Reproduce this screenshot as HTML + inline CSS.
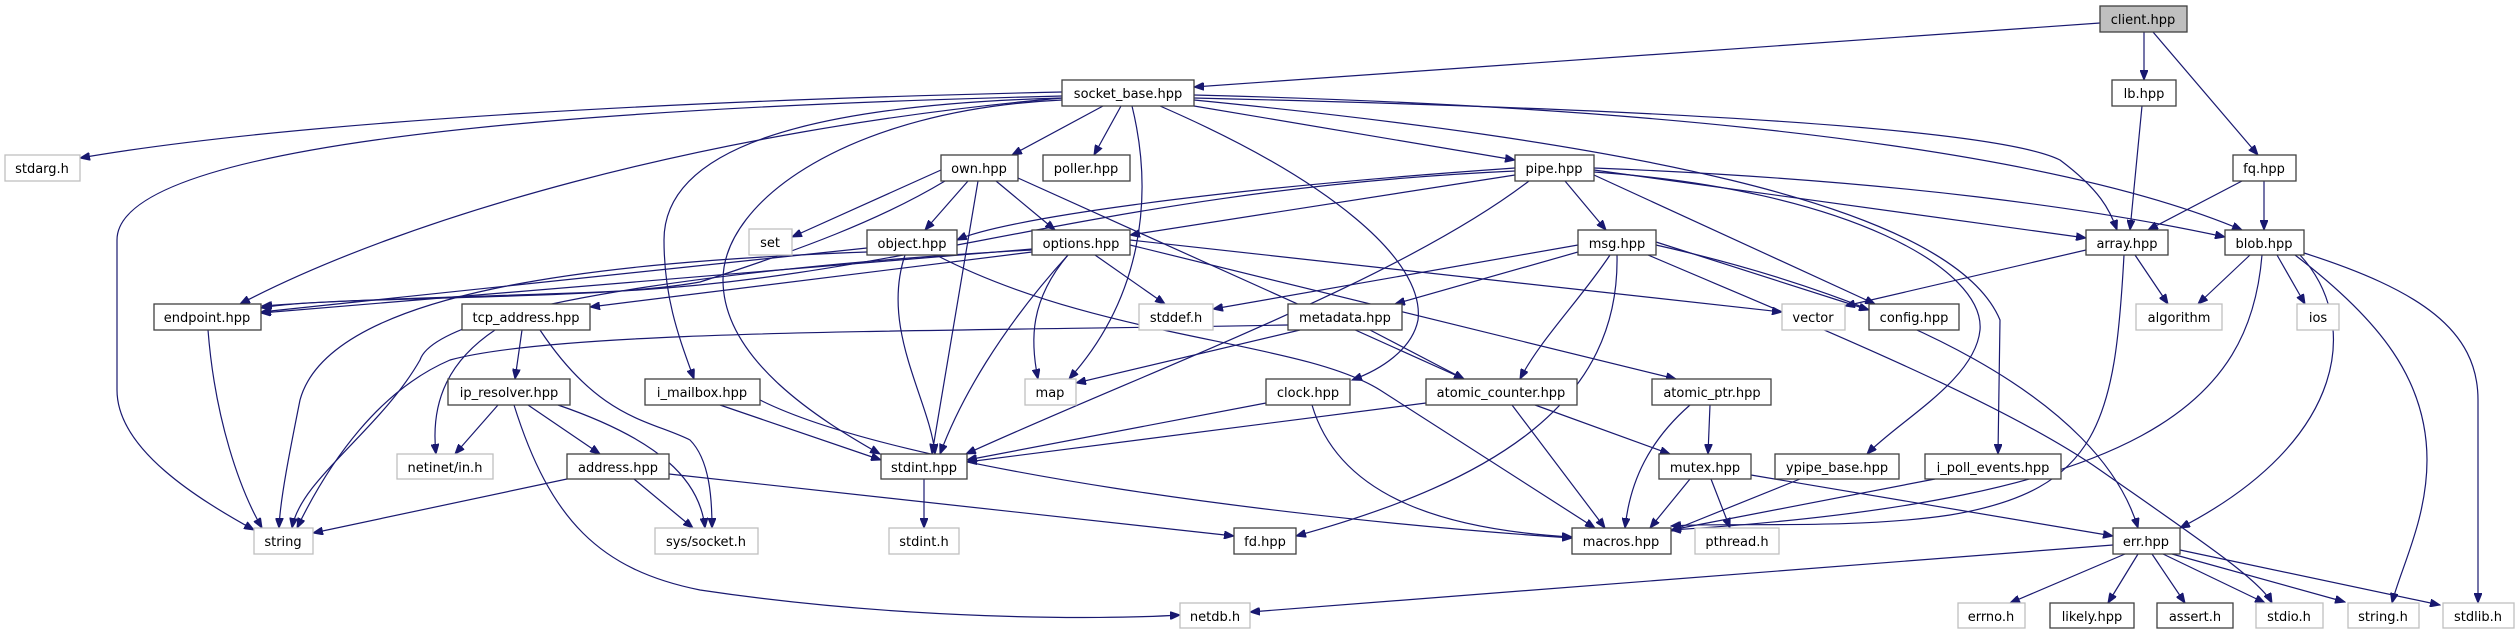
<!DOCTYPE html>
<html><head><meta charset="utf-8"><style>
html,body{margin:0;padding:0;background:#fff;}
svg{display:block;}
text{font-family:"DejaVu Sans","Liberation Sans",sans-serif;font-size:13px;fill:#000;}
.n rect{fill:#fff;stroke:#404040;stroke-width:1.3;}
.g rect{fill:#fff;stroke:#bfbfbf;stroke-width:1.3;}
.e path{fill:none;stroke:#191970;stroke-width:1.2;marker-end:url(#a);}
</style></head><body>
<svg width="2517" height="635" viewBox="0 0 2517 635" xmlns="http://www.w3.org/2000/svg">
<defs><marker id="a" markerUnits="userSpaceOnUse" markerWidth="11" markerHeight="8" refX="10" refY="4" orient="auto"><path d="M0,0 L10,4 L0,8 z" fill="#191970" stroke="#191970"/></marker></defs>
<g class="e">
<path d="M2100,23 L1194,87"/>
<path d="M2144,32 L2144,80"/>
<path d="M2153,32 L2258,155"/>
<path d="M2142,106 L2130,230"/>
<path d="M2242,181 L2148,230"/>
<path d="M2264,181 L2264,230"/>
<path d="M1062,92 C700,100 300,120 80,158"/>
<path d="M1062,96 C500,110 117,150 117,240 L117,390 C117,450 200,500 254,530"/>
<path d="M1062,98 C700,130 400,220 240,304"/>
<path d="M1062,98 C800,105 664,150 664,240 C664,300 680,340 694,379"/>
<path d="M1062,100 C850,110 723,200 723,280 C723,360 820,420 880,454"/>
<path d="M1103,106 L1012,155"/>
<path d="M1121,106 L1094,155"/>
<path d="M1132,106 C1155,200 1140,300 1069,379"/>
<path d="M1160,106 C1330,180 1425,260 1418,320 C1412,350 1380,370 1352,380"/>
<path d="M1194,106 L1515,160"/>
<path d="M1194,98 C1700,110 2000,130 2060,160 C2100,190 2110,210 2117,230"/>
<path d="M1194,95 C1800,110 2100,170 2242,230"/>
<path d="M1194,100 C1600,140 1950,200 2000,320 L1998,454"/>
<path d="M941,170 L792,237"/>
<path d="M968,181 L925,230"/>
<path d="M996,181 L1055,230"/>
<path d="M978,181 L932,454"/>
<path d="M1018,178 L1464,379"/>
<path d="M945,181 C880,220 800,250 700,282 C600,300 400,295 262,306"/>
<path d="M867,248 L261,312"/>
<path d="M867,252 C600,262 330,290 300,400 C290,450 280,500 279,528"/>
<path d="M905,255 C880,330 930,400 935,454"/>
<path d="M936,255 C1100,340 1300,340 1380,390 L1595,528"/>
<path d="M1032,249 L261,313"/>
<path d="M1032,252 L590,307"/>
<path d="M1032,250 C800,262 440,300 420,360 C380,430 300,480 292,528"/>
<path d="M1095,255 L1165,304"/>
<path d="M1068,255 C1030,300 1030,340 1038,379"/>
<path d="M1068,255 C1000,330 960,400 940,454"/>
<path d="M1130,240 L1782,312"/>
<path d="M1130,245 L1676,379"/>
<path d="M1515,168 C1200,190 1000,220 957,240"/>
<path d="M1515,175 L1130,235"/>
<path d="M1515,171 C1100,190 900,280 600,292 C450,298 300,300 261,308"/>
<path d="M1565,181 L1606,230"/>
<path d="M1529,181 C1400,280 1150,370 966,454"/>
<path d="M1594,170 L2086,238"/>
<path d="M1594,168 C1900,180 2100,210 2225,237"/>
<path d="M1594,175 L1875,304"/>
<path d="M1594,172 C1850,190 1985,270 1980,330 C1975,380 1900,420 1867,454"/>
<path d="M1656,245 C1900,300 2100,400 2138,528"/>
<path d="M1648,255 C1800,320 2000,400 2100,470 C2200,540 2260,580 2272,603"/>
<path d="M1578,245 L1213,309"/>
<path d="M1585,250 L1395,304"/>
<path d="M1610,255 C1580,300 1540,340 1520,379"/>
<path d="M1617,255 C1620,400 1500,480 1296,536"/>
<path d="M1656,242 L1869,310"/>
<path d="M1300,330 L1076,383"/>
<path d="M1370,330 L1464,379"/>
<path d="M1288,325 C900,332 560,330 450,360 C380,390 330,460 297,528"/>
<path d="M2086,250 L1845,306"/>
<path d="M2135,255 L2168,304"/>
<path d="M2124,255 C2115,420 2100,490 1950,515 C1850,530 1720,522 1671,526"/>
<path d="M2250,255 L2198,304"/>
<path d="M2277,255 L2305,304"/>
<path d="M2262,255 C2250,400 2150,500 1671,530"/>
<path d="M2300,255 C2360,320 2350,440 2180,528"/>
<path d="M2295,255 C2380,320 2427,380 2427,460 C2427,520 2400,570 2392,603"/>
<path d="M2304,253 C2420,290 2478,330 2478,400 L2478,603"/>
<path d="M495,330 C450,360 430,400 436,454"/>
<path d="M522,330 L515,379"/>
<path d="M540,330 C600,420 650,420 690,440 C710,460 712,500 712,528"/>
<path d="M498,405 L455,454"/>
<path d="M528,405 L600,454"/>
<path d="M558,405 C660,440 700,480 705,528"/>
<path d="M514,405 C550,520 600,570 700,590 C900,620 1100,620 1180,615"/>
<path d="M567,479 L313,533"/>
<path d="M634,479 L693,528"/>
<path d="M669,474 L1234,536"/>
<path d="M208,330 C215,420 240,490 262,528"/>
<path d="M720,405 L881,460"/>
<path d="M760,400 C900,470 1300,520 1572,538"/>
<path d="M1266,403 L967,460"/>
<path d="M1312,405 C1340,500 1450,530 1572,537"/>
<path d="M1426,403 L967,462"/>
<path d="M1512,405 L1605,528"/>
<path d="M1535,405 L1670,454"/>
<path d="M1710,405 L1708,454"/>
<path d="M1690,405 C1650,440 1630,480 1625,528"/>
<path d="M1690,479 L1650,528"/>
<path d="M1711,479 L1730,528"/>
<path d="M1751,475 L2113,536"/>
<path d="M1800,479 L1671,531"/>
<path d="M1935,479 L1671,530"/>
<path d="M924,479 L924,528"/>
<path d="M2125,554 L2010,603"/>
<path d="M2138,554 L2108,603"/>
<path d="M2152,554 L2185,603"/>
<path d="M2163,554 L2265,603"/>
<path d="M2172,554 L2345,602"/>
<path d="M2180,550 L2440,605"/>
<path d="M2113,545 L1250,612"/>
</g>
<g class="n"><rect x="2100" y="6" width="87" height="26" style="fill:#bfbfbf"/><text x="2143" y="24" text-anchor="middle">client.hpp</text></g>
<g class="n"><rect x="1062" y="80" width="132" height="26"/><text x="1128" y="98" text-anchor="middle">socket_base.hpp</text></g>
<g class="n"><rect x="2112" y="80" width="64" height="26"/><text x="2144" y="98" text-anchor="middle">lb.hpp</text></g>
<g class="g"><rect x="5" y="155" width="75" height="26"/><text x="42" y="173" text-anchor="middle">stdarg.h</text></g>
<g class="n"><rect x="941" y="155" width="77" height="26"/><text x="979" y="173" text-anchor="middle">own.hpp</text></g>
<g class="n"><rect x="1043" y="155" width="87" height="26"/><text x="1086" y="173" text-anchor="middle">poller.hpp</text></g>
<g class="n"><rect x="1515" y="155" width="79" height="26"/><text x="1554" y="173" text-anchor="middle">pipe.hpp</text></g>
<g class="n"><rect x="2233" y="155" width="63" height="26"/><text x="2264" y="173" text-anchor="middle">fq.hpp</text></g>
<g class="g"><rect x="749" y="229" width="43" height="26"/><text x="770" y="247" text-anchor="middle">set</text></g>
<g class="n"><rect x="867" y="230" width="90" height="25"/><text x="912" y="248" text-anchor="middle">object.hpp</text></g>
<g class="n"><rect x="1032" y="230" width="98" height="25"/><text x="1081" y="248" text-anchor="middle">options.hpp</text></g>
<g class="n"><rect x="1578" y="230" width="78" height="25"/><text x="1617" y="248" text-anchor="middle">msg.hpp</text></g>
<g class="n"><rect x="2086" y="230" width="82" height="25"/><text x="2127" y="248" text-anchor="middle">array.hpp</text></g>
<g class="n"><rect x="2225" y="230" width="79" height="25"/><text x="2264" y="248" text-anchor="middle">blob.hpp</text></g>
<g class="n"><rect x="154" y="304" width="107" height="26"/><text x="207" y="322" text-anchor="middle">endpoint.hpp</text></g>
<g class="n"><rect x="462" y="304" width="128" height="26"/><text x="526" y="322" text-anchor="middle">tcp_address.hpp</text></g>
<g class="g"><rect x="1139" y="304" width="74" height="26"/><text x="1176" y="322" text-anchor="middle">stddef.h</text></g>
<g class="n"><rect x="1288" y="304" width="114" height="26"/><text x="1345" y="322" text-anchor="middle">metadata.hpp</text></g>
<g class="g"><rect x="1782" y="304" width="63" height="26"/><text x="1813" y="322" text-anchor="middle">vector</text></g>
<g class="n"><rect x="1869" y="304" width="90" height="26"/><text x="1914" y="322" text-anchor="middle">config.hpp</text></g>
<g class="g"><rect x="2136" y="304" width="86" height="26"/><text x="2179" y="322" text-anchor="middle">algorithm</text></g>
<g class="g"><rect x="2297" y="304" width="42" height="26"/><text x="2318" y="322" text-anchor="middle">ios</text></g>
<g class="n"><rect x="448" y="379" width="122" height="26"/><text x="509" y="397" text-anchor="middle">ip_resolver.hpp</text></g>
<g class="n"><rect x="645" y="379" width="115" height="26"/><text x="702" y="397" text-anchor="middle">i_mailbox.hpp</text></g>
<g class="g"><rect x="1025" y="379" width="51" height="26"/><text x="1050" y="397" text-anchor="middle">map</text></g>
<g class="n"><rect x="1266" y="379" width="84" height="26"/><text x="1308" y="397" text-anchor="middle">clock.hpp</text></g>
<g class="n"><rect x="1426" y="379" width="151" height="26"/><text x="1501" y="397" text-anchor="middle">atomic_counter.hpp</text></g>
<g class="n"><rect x="1652" y="379" width="119" height="26"/><text x="1712" y="397" text-anchor="middle">atomic_ptr.hpp</text></g>
<g class="g"><rect x="397" y="454" width="96" height="25"/><text x="445" y="472" text-anchor="middle">netinet/in.h</text></g>
<g class="n"><rect x="567" y="454" width="102" height="25"/><text x="618" y="472" text-anchor="middle">address.hpp</text></g>
<g class="n"><rect x="881" y="454" width="86" height="25"/><text x="924" y="472" text-anchor="middle">stdint.hpp</text></g>
<g class="n"><rect x="1659" y="454" width="92" height="25"/><text x="1705" y="472" text-anchor="middle">mutex.hpp</text></g>
<g class="n"><rect x="1775" y="454" width="124" height="25"/><text x="1837" y="472" text-anchor="middle">ypipe_base.hpp</text></g>
<g class="n"><rect x="1925" y="454" width="136" height="25"/><text x="1993" y="472" text-anchor="middle">i_poll_events.hpp</text></g>
<g class="g"><rect x="254" y="528" width="59" height="26"/><text x="283" y="546" text-anchor="middle">string</text></g>
<g class="g"><rect x="655" y="528" width="103" height="26"/><text x="706" y="546" text-anchor="middle">sys/socket.h</text></g>
<g class="g"><rect x="889" y="528" width="70" height="26"/><text x="924" y="546" text-anchor="middle">stdint.h</text></g>
<g class="n"><rect x="1234" y="528" width="62" height="26"/><text x="1265" y="546" text-anchor="middle">fd.hpp</text></g>
<g class="n"><rect x="1572" y="528" width="99" height="26"/><text x="1621" y="546" text-anchor="middle">macros.hpp</text></g>
<g class="g"><rect x="1695" y="528" width="84" height="26"/><text x="1737" y="546" text-anchor="middle">pthread.h</text></g>
<g class="n"><rect x="2113" y="528" width="67" height="26"/><text x="2146" y="546" text-anchor="middle">err.hpp</text></g>
<g class="g"><rect x="1180" y="603" width="70" height="25"/><text x="1215" y="621" text-anchor="middle">netdb.h</text></g>
<g class="g"><rect x="1958" y="603" width="67" height="25"/><text x="1991" y="621" text-anchor="middle">errno.h</text></g>
<g class="n"><rect x="2050" y="603" width="84" height="25"/><text x="2092" y="621" text-anchor="middle">likely.hpp</text></g>
<g class="n"><rect x="2157" y="603" width="76" height="25"/><text x="2195" y="621" text-anchor="middle">assert.h</text></g>
<g class="g"><rect x="2256" y="603" width="67" height="25"/><text x="2289" y="621" text-anchor="middle">stdio.h</text></g>
<g class="g"><rect x="2348" y="603" width="71" height="25"/><text x="2383" y="621" text-anchor="middle">string.h</text></g>
<g class="g"><rect x="2443" y="603" width="71" height="25"/><text x="2478" y="621" text-anchor="middle">stdlib.h</text></g>
</svg>
</body></html>
